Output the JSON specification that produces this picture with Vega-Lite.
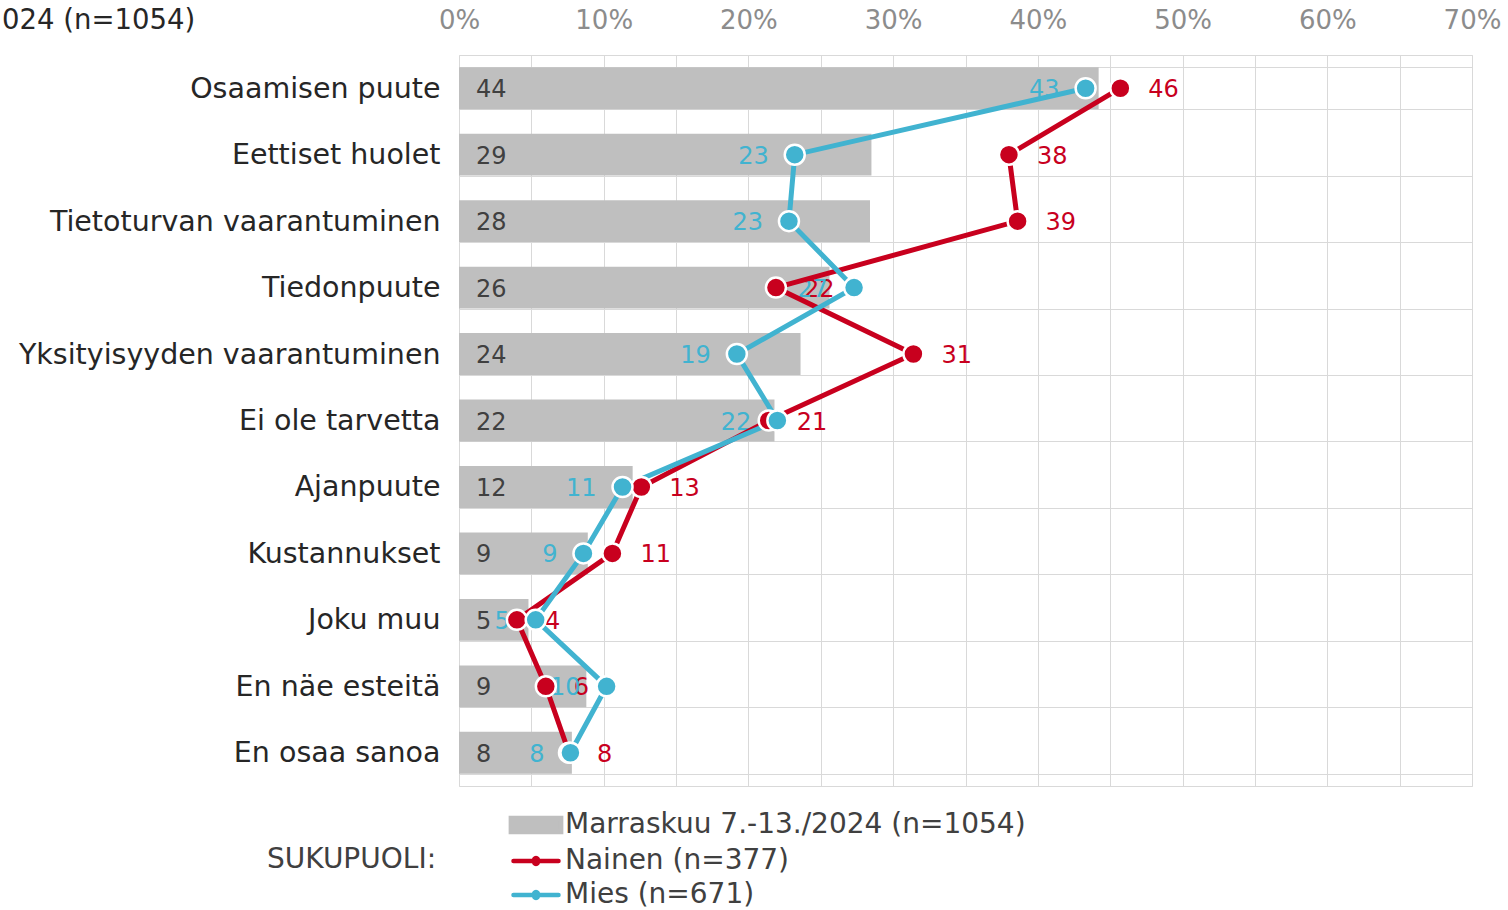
{
  "$schema": "https://vega.github.io/schema/vega-lite/v6.json",
  "width": 1013,
  "height": 731,
  "autosize": {"type": "none"},
  "padding": {"left": 459, "top": 55, "right": 36, "bottom": 124},
  "background": "white",
  "config": {"font": "DejaVu Sans", "view": {"stroke": "#d9d9d9", "strokeWidth": 1}},
  "title": {"text": "024 (n=1054)", "anchor": "start", "frame": "group", "dx": -457, "dy": 31, "fontSize": 27.5, "fontWeight": "normal", "color": "#262626", "font": "DejaVu Sans"},
  "data": {"values": [
    {"k": "Osaamisen puute", "s": "Marraskuu 7.-13./2024 (n=1054)", "v": 44.2},
    {"k": "Osaamisen puute", "s": "Nainen (n=377)", "v": 45.7},
    {"k": "Osaamisen puute", "s": "Mies (n=671)", "v": 43.3},
    {"k": "Eettiset huolet", "s": "Marraskuu 7.-13./2024 (n=1054)", "v": 28.5},
    {"k": "Eettiset huolet", "s": "Nainen (n=377)", "v": 38.0},
    {"k": "Eettiset huolet", "s": "Mies (n=671)", "v": 23.2},
    {"k": "Tietoturvan vaarantuminen", "s": "Marraskuu 7.-13./2024 (n=1054)", "v": 28.4},
    {"k": "Tietoturvan vaarantuminen", "s": "Nainen (n=377)", "v": 38.6},
    {"k": "Tietoturvan vaarantuminen", "s": "Mies (n=671)", "v": 22.8},
    {"k": "Tiedonpuute", "s": "Marraskuu 7.-13./2024 (n=1054)", "v": 25.6},
    {"k": "Tiedonpuute", "s": "Nainen (n=377)", "v": 21.9},
    {"k": "Tiedonpuute", "s": "Mies (n=671)", "v": 27.3},
    {"k": "Yksityisyyden vaarantuminen", "s": "Marraskuu 7.-13./2024 (n=1054)", "v": 23.6},
    {"k": "Yksityisyyden vaarantuminen", "s": "Nainen (n=377)", "v": 31.4},
    {"k": "Yksityisyyden vaarantuminen", "s": "Mies (n=671)", "v": 19.2},
    {"k": "Ei ole tarvetta", "s": "Marraskuu 7.-13./2024 (n=1054)", "v": 21.8},
    {"k": "Ei ole tarvetta", "s": "Nainen (n=377)", "v": 21.4},
    {"k": "Ei ole tarvetta", "s": "Mies (n=671)", "v": 22.0},
    {"k": "Ajanpuute", "s": "Marraskuu 7.-13./2024 (n=1054)", "v": 12.0},
    {"k": "Ajanpuute", "s": "Nainen (n=377)", "v": 12.6},
    {"k": "Ajanpuute", "s": "Mies (n=671)", "v": 11.3},
    {"k": "Kustannukset", "s": "Marraskuu 7.-13./2024 (n=1054)", "v": 8.9},
    {"k": "Kustannukset", "s": "Nainen (n=377)", "v": 10.6},
    {"k": "Kustannukset", "s": "Mies (n=671)", "v": 8.6},
    {"k": "Joku muu", "s": "Marraskuu 7.-13./2024 (n=1054)", "v": 4.8},
    {"k": "Joku muu", "s": "Nainen (n=377)", "v": 4.0},
    {"k": "Joku muu", "s": "Mies (n=671)", "v": 5.3},
    {"k": "En näe esteitä", "s": "Marraskuu 7.-13./2024 (n=1054)", "v": 8.8},
    {"k": "En näe esteitä", "s": "Nainen (n=377)", "v": 6.0},
    {"k": "En näe esteitä", "s": "Mies (n=671)", "v": 10.2},
    {"k": "En osaa sanoa", "s": "Marraskuu 7.-13./2024 (n=1054)", "v": 7.8},
    {"k": "En osaa sanoa", "s": "Nainen (n=377)", "v": 7.6},
    {"k": "En osaa sanoa", "s": "Mies (n=671)", "v": 7.7}
  ]},
  "encoding": {
    "y": {"field": "k", "type": "nominal",
      "sort": ["Osaamisen puute", "Eettiset huolet", "Tietoturvan vaarantuminen", "Tiedonpuute", "Yksityisyyden vaarantuminen", "Ei ole tarvetta", "Ajanpuute", "Kustannukset", "Joku muu", "En näe esteitä", "En osaa sanoa"],
      "scale": {"paddingInner": 0.37, "paddingOuter": 0.185},
      "axis": {"title": null, "ticks": false, "domain": false, "grid": true, "tickBand": "extent", "gridColor": "#d9d9d9", "labelFontSize": 28.5, "labelColor": "#262626", "labelPadding": 19, "labelLimit": 600, "labelFont": "DejaVu Sans"}},
    "x": {"field": "v", "type": "quantitative",
      "scale": {"domain": [0, 70], "nice": false},
      "axis": {"orient": "top", "title": null, "values": [0, 5, 10, 15, 20, 25, 30, 35, 40, 45, 50, 55, 60, 65, 70], "labelExpr": "datum.value % 10 === 0 ? datum.value + '%' : ''", "labelFontSize": 26, "labelColor": "#8c8c8c", "labelFont": "DejaVu Sans", "ticks": false, "domain": false, "grid": true, "gridColor": "#d9d9d9", "labelPadding": 22, "labelFlush": false, "labelOverlap": false}}
  },
  "layer": [
    {
      "transform": [{"filter": {"field": "s", "equal": "Marraskuu 7.-13./2024 (n=1054)"}}],
      "mark": {"type": "bar"},
      "encoding": {
        "color": {"field": "s", "type": "nominal",
          "scale": {"domain": ["Marraskuu 7.-13./2024 (n=1054)", "Nainen (n=377)", "Mies (n=671)"], "range": ["#bfbfbf", "#c8001e", "#41b3d0"]},
          "legend": {
            "orient": "none", "legendX": -192, "legendY": 756, "direction": "vertical",
            "title": "SUKUPUOLI:", "titleOrient": "left", "titleAnchor": "middle", "titleBaseline": "middle",
            "titleFontSize": 28, "titleFontWeight": "normal", "titleColor": "#404040", "titleFont": "DejaVu Sans", "titlePadding": 85,
            "labelFontSize": 28, "labelColor": "#404040", "labelFont": "DejaVu Sans", "labelLimit": 1000, "labelOffset": 15,
            "symbolSize": 300, "rowPadding": 6, "padding": 0,
            "encode": {"symbols": {"update": {
              "shape": {"signal": "datum.value === 'Marraskuu 7.-13./2024 (n=1054)' ? 'M-2.9,-0.8L2.9,-0.8L2.9,0.8L-2.9,0.8Z' : 'M-2.6,0L2.6,0M0.25,0A0.25,0.35 0 1 1 -0.25,0A0.25,0.35 0 1 1 0.25,0Z'"},
              "fill": {"signal": "scale('color', datum.value)"},
              "stroke": {"signal": "datum.value === 'Marraskuu 7.-13./2024 (n=1054)' ? 'transparent' : scale('color', datum.value)"},
              "strokeWidth": {"value": 4.5},
              "strokeCap": {"value": "round"},
              "opacity": {"value": 1},
              "fillOpacity": {"value": 1},
              "strokeOpacity": {"value": 1}
            }}}
          }
        }
      }
    },
    {
      "transform": [{"filter": {"field": "s", "equal": "Marraskuu 7.-13./2024 (n=1054)"}}],
      "mark": {"type": "text", "align": "left", "baseline": "middle", "dx": 17, "dy": 2, "fontSize": 24, "color": "#404040", "font": "DejaVu Sans"},
      "encoding": {"x": {"datum": 0, "type": "quantitative"}, "text": {"field": "v", "type": "quantitative", "format": ".0f"}}
    },
    {
      "transform": [{"filter": {"field": "s", "equal": "Nainen (n=377)"}}],
      "mark": {"type": "text", "align": "left", "baseline": "middle", "dx": 28, "dy": 2, "fontSize": 24, "color": "#c8001e", "font": "DejaVu Sans"},
      "encoding": {"text": {"field": "v", "type": "quantitative", "format": ".0f"}}
    },
    {
      "transform": [{"filter": {"field": "s", "equal": "Mies (n=671)"}}],
      "mark": {"type": "text", "align": "right", "baseline": "middle", "dx": -26, "dy": 2, "fontSize": 24, "color": "#41b3d0", "font": "DejaVu Sans"},
      "encoding": {"text": {"field": "v", "type": "quantitative", "format": ".0f"}}
    },
    {
      "transform": [{"filter": {"field": "s", "equal": "Nainen (n=377)"}}],
      "mark": {"type": "line", "strokeWidth": 5},
      "encoding": {"color": {"field": "s", "type": "nominal"}, "order": {"value": null}}
    },
    {
      "transform": [{"filter": {"field": "s", "equal": "Mies (n=671)"}}],
      "mark": {"type": "line", "strokeWidth": 5},
      "encoding": {"color": {"field": "s", "type": "nominal"}, "order": {"value": null}}
    },
    {
      "transform": [{"filter": {"field": "s", "equal": "Nainen (n=377)"}}],
      "mark": {"type": "point", "filled": true, "size": 400, "stroke": "white", "strokeWidth": 2.5, "opacity": 1},
      "encoding": {"color": {"field": "s", "type": "nominal"}}
    },
    {
      "transform": [{"filter": {"field": "s", "equal": "Mies (n=671)"}}],
      "mark": {"type": "point", "filled": true, "size": 400, "stroke": "white", "strokeWidth": 2.5, "opacity": 1},
      "encoding": {"color": {"field": "s", "type": "nominal"}}
    }
  ]
}
